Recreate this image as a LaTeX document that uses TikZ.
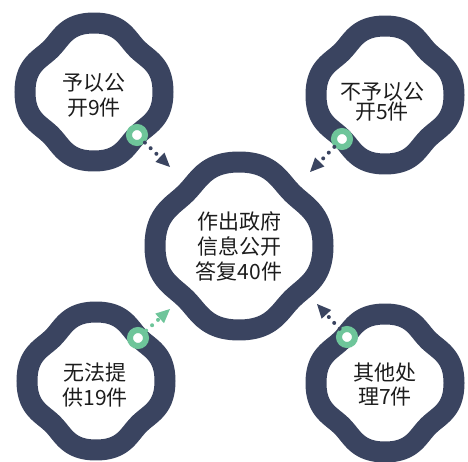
\documentclass[tikz,border=0pt]{standalone}
\usepackage{fontspec}
\newfontfamily\cjkfont{Noto Sans CJK SC}
\usetikzlibrary{arrows.meta}
\definecolor{navy}{RGB}{58,68,96}
\definecolor{mint}{RGB}{110,197,154}
\definecolor{ink}{RGB}{28,28,28}
\newcommand{\petal}[3]{\draw[petal, shift={(#1)}] plot[smooth cycle, domain=0:356, samples=90, variable=\t]
	({(#2-#3*(1-cos(4*\t))*(1-cos(4*\t))/4)*cos(\t)}, {(#2-#3*(1-cos(4*\t))*(1-cos(4*\t))/4)*sin(\t)});}

\begin{document}
\begin{tikzpicture}[x=1pt, y=-1pt,
	petal/.style={draw=navy, line width=21pt},
	ring/.style={circle, fill=white, draw=mint, line width=6pt, minimum size=16pt, inner sep=0pt},
	dots/.style={line width=4pt, line cap=round, dash pattern=on 0pt off 8pt, -{Triangle[length=14pt, width=13pt, line width=0pt]}},
	word/.style={font=\cjkfont\fontsize{21}{25}\selectfont, text=ink, align=center, inner sep=0pt}]
	
	\useasboundingbox (0,0) rectangle (468,462);
	
	\coordinate (c0) at (239,246);
	\coordinate (c1) at (94,92);
	\coordinate (c2) at (385,95);
	\coordinate (c3) at (96,381);
	\coordinate (c4) at (385,383);
	
	\petal{c0}{84}{9}
	\petal{c1}{69}{8}
	\petal{c2}{69}{8}
	\petal{c3}{69}{8}
	\petal{c4}{69}{8}
	
	\node[word] (n0) at (239,246) {作出政府\\信息公开\\答复40件};
	\node[word] (n1) at (94,95) {予以公\\开9件};
	\node[word, font=\cjkfont\fontsize{21}{20}\selectfont] (n2) at (382,102) {不予以公\\开5件};
	\node[word] (n3) at (95,385) {无法提\\供19件};
	\node[word, font=\cjkfont\fontsize{21}{24}\selectfont] (n4) at (385,385) {其他处\\理7件};
	
	\node[ring] (m1) at (137,135) {};
	\node[ring] (m2) at (342,139) {};
	\node[ring] (m3) at (138,338) {};
	\node[ring] (m4) at (347,337) {};
	
	\coordinate (t1) at (170,167);
	\coordinate (t2) at (310,172);
	\coordinate (t3) at (170,309);
	\coordinate (t4) at (317,304);
	
	\draw[dots, navy] (m1) -- (t1);
	\draw[dots, navy] (m2) -- (t2);
	\draw[dots, mint] (m3) -- (t3);
	\draw[dots, navy] (m4) -- (t4);
\end{tikzpicture}
\end{document}
